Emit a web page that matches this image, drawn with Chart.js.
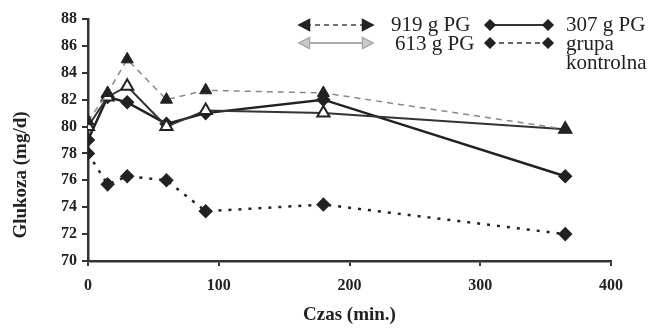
<!DOCTYPE html>
<html>
<head>
<meta charset="utf-8">
<script src="https://cdn.jsdelivr.net/npm/chart.js@4"></script>
<style>
  html, body { margin: 0; padding: 0; background: #fff; }
  #wrap { width: 652px; height: 328px; }
</style>
</head>
<body>
<div id="wrap"><canvas id="glukozaChart"></canvas></div>
<script>
// dane
const czas = [0, 15, 30, 60, 90, 180, 365];
const pg919 = [80.4, 82.5, 85.0, 82.0, 82.7, 82.5, 79.8];
const pg613 = [80.0, 82.2, 83.0, 80.0, 81.2, 81.0, 79.8];
const pg307 = [79.0, 82.2, 81.8, 80.2, 81.0, 82.0, 76.3];
const kontrola = [78.0, 75.7, 76.3, 76.0, 73.7, 74.2, 72.0];
const nazwy = ['919 g PG', '613 g PG', '307 g PG', ['grupa', 'kontrolna']];
const osY = 'Glukoza (mg/d)';
const osX = 'Czas (min.)';

const SERIF = '"Liberation Serif", "Times New Roman", serif';
const toPts = (vals) => vals.map((v, i) => ({ x: czas[i], y: v }));

// rysowanie legendy i tytułu osi Y
const legendaPlugin = {
    id: 'legenda',
    afterDraw(chart) {
        const c = chart.ctx;
        c.save();

        function marker(style, x, y, fill, stroke, rot) {
            c.save();
            c.translate(x, y);
            c.rotate(rot || 0);
            c.fillStyle = fill;
            c.strokeStyle = stroke;
            c.lineWidth = 1.5;
            c.setLineDash([]);
            c.beginPath();
            if (style === 'tri') {
                c.moveTo(0, -6); c.lineTo(5.5, 4.5); c.lineTo(-5.5, 4.5);
            } else {
                c.moveTo(0, -5); c.lineTo(5, 0); c.lineTo(0, 5); c.lineTo(-5, 0);
            }
            c.closePath();
            c.fill();
            c.stroke();
            c.restore();
        }
        function linia(x1, x2, y, color, width, dash) {
            c.strokeStyle = color;
            c.lineWidth = width;
            c.setLineDash(dash);
            c.beginPath();
            c.moveTo(x1, y); c.lineTo(x2, y);
            c.stroke();
            c.setLineDash([]);
        }

        // 919
        linia(306, 366, 25, '#444', 1.5, [5, 4]);
        marker('tri', 305, 25, '#222', '#222', -Math.PI / 2);
        marker('tri', 367, 25, '#222', '#222', Math.PI / 2);
        // 613
        linia(306, 366, 43, '#aaa', 2, []);
        marker('tri', 305, 43, '#ccc', '#aaa', -Math.PI / 2);
        marker('tri', 367, 43, '#ccc', '#aaa', Math.PI / 2);
        // 307
        linia(490, 548, 25, '#333', 2, []);
        marker('dia', 490, 25, '#222', '#222');
        marker('dia', 548, 25, '#222', '#222');
        // kontrola
        linia(490, 548, 43, '#333', 1.5, [5, 4]);
        marker('dia', 490, 43, '#222', '#222');
        marker('dia', 548, 43, '#222', '#222');

        c.fillStyle = '#222';
        c.font = '21px ' + SERIF;
        c.textBaseline = 'middle';
        c.textAlign = 'left';
        c.fillText(nazwy[0], 391, 25);
        c.fillText(nazwy[1], 395, 44);
        c.fillText(nazwy[2], 566, 25);
        c.fillText(nazwy[3][0], 566, 44);
        c.fillText(nazwy[3][1], 566, 63);

        // tytuł osi Y (przesunięty w dół jak w oryginale)
        c.font = 'bold 19px ' + SERIF;
        c.textAlign = 'center';
        c.translate(21, 175);
        c.rotate(-Math.PI / 2);
        c.fillText(osY, 0, 0);
        c.restore();
    }
};

const ctx = document.getElementById('glukozaChart').getContext('2d');

const glukozaChart = new Chart(ctx, {
    type: 'line',
    data: {
        datasets: [
            {
                label: nazwy[0],
                data: toPts(pg919),
                borderColor: '#888',
                borderWidth: 1.5,
                borderDash: [6, 5],
                pointStyle: 'triangle',
                pointRadius: 7,
                pointBackgroundColor: '#222',
                pointBorderColor: '#222',
                pointBorderWidth: 1,
                fill: false,
            },
            {
                label: nazwy[1],
                data: toPts(pg613),
                borderColor: '#333',
                borderWidth: 2,
                pointStyle: 'triangle',
                pointRadius: 7,
                pointBackgroundColor: '#fff',
                pointBorderColor: '#222',
                pointBorderWidth: 2,
                fill: false,
            },
            {
                label: nazwy[2],
                data: toPts(pg307),
                borderColor: '#222',
                borderWidth: 2.5,
                pointStyle: 'rectRot',
                pointRadius: 5.5,
                pointBackgroundColor: '#222',
                pointBorderColor: '#222',
                fill: false,
            },
            {
                label: 'grupa kontrolna',
                data: toPts(kontrola),
                borderColor: '#222',
                borderWidth: 2.5,
                borderDash: [3, 7],
                pointStyle: 'rectRot',
                pointRadius: 5.5,
                pointBackgroundColor: '#222',
                pointBorderColor: '#222',
                fill: false,
            }
        ]
    },
    options: {
        responsive: true,
        maintainAspectRatio: false,
        animation: false,
        events: [],
        layout: { padding: { top: 19, right: 41, left: 0, bottom: 0 } },
        plugins: {
            legend: { display: false },
            tooltip: { enabled: false }
        },
        scales: {
            x: {
                type: 'linear',
                min: 0,
                max: 400,
                ticks: {
                    stepSize: 100,
                    color: '#222',
                    padding: 10,
                    font: { family: SERIF, size: 16, weight: 'bold' }
                },
                grid: { drawOnChartArea: false, tickLength: 5, color: '#333', lineWidth: 2 },
                border: { display: true, color: '#333', width: 2.5 },
                title: {
                    display: true,
                    text: osX,
                    color: '#222',
                    padding: { top: 0, bottom: 2 },
                    font: { family: SERIF, size: 19, weight: 'bold' }
                },
                afterFit(scale) { scale.height = 67; }
            },
            y: {
                min: 70,
                max: 88,
                ticks: {
                    stepSize: 2,
                    color: '#222',
                    padding: 5,
                    font: { family: SERIF, size: 16, weight: 'bold' }
                },
                grid: { drawOnChartArea: false, tickLength: 6, color: '#333', lineWidth: 2 },
                border: { display: true, color: '#333', width: 2.5 },
                afterFit(scale) { scale.width = 88; }
            }
        }
    },
    plugins: [legendaPlugin]
});
</script>
</body>
</html>
